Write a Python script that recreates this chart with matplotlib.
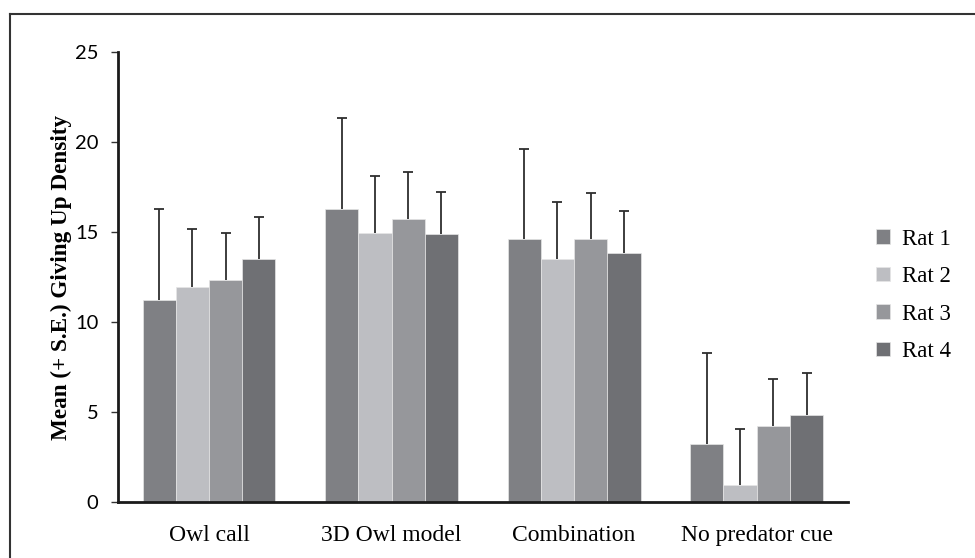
import numpy as np
import matplotlib
matplotlib.use("Agg")
import matplotlib.pyplot as plt
from matplotlib.lines import Line2D

# 데이터
categories = ["Owl call", "3D Owl model", "Combination", "No predator cue"]
rats = ["Rat 1", "Rat 2", "Rat 3", "Rat 4"]
rat1 = [11.25, 16.3, 14.65, 3.25]
rat2 = [11.95, 14.95, 13.5, 0.95]
rat3 = [12.35, 15.75, 14.6, 4.25]
rat4 = [13.5, 14.9, 13.85, 4.85]
rat1_se = [5.05, 5.05, 5.0, 5.05]
rat2_se = [3.25, 3.2, 3.2, 3.15]
rat3_se = [2.6, 2.6, 2.6, 2.6]
rat4_se = [2.35, 2.35, 2.35, 2.35]
yticks = [0, 5, 10, 15, 20, 25]

colors = ["#7f8084", "#bdbec2", "#96979b", "#6f7074"]
means = [rat1, rat2, rat3, rat4]
errs = [rat1_se, rat2_se, rat3_se, rat4_se]

plt.rcParams["font.family"] = ["Liberation Serif", "DejaVu Serif"]

fig = plt.figure(figsize=(9.75, 5.58), dpi=100)
ax = fig.add_axes([0.1207, 0.0998, 0.749, 0.8065])

x = np.arange(len(categories))
w = 0.182
for i in range(4):
    pos = x + (i - 1.5) * w
    ax.bar(pos, means[i], w, color=colors[i], edgecolor="#e6e6e6",
           linewidth=0.5, label=rats[i], zorder=2)
    eb = ax.errorbar(pos, means[i], yerr=[np.zeros(4), errs[i]], fmt="none",
                     ecolor="#2e2e2e", elinewidth=1.3, capsize=3.5,
                     capthick=1.3, zorder=3)
    # 아래쪽 캡은 지움
    eb[1][0].remove()

ax.set_xlim(-0.5, 3.5)
ax.set_ylim(0, 25)
ax.set_yticks(yticks)
ax.set_yticklabels([str(t) for t in yticks], fontfamily="Lato", fontsize=14.5)
ax.set_xticks(x)
ax.set_xticklabels(categories, fontsize=17)
ax.tick_params(axis="x", length=0, pad=16)
ax.tick_params(axis="y", length=5, width=1, color="#333333", pad=9)

for s in ["top", "right"]:
    ax.spines[s].set_visible(False)
ax.spines["left"].set_linewidth(2)
ax.spines["bottom"].set_linewidth(2)
ax.spines["left"].set_color("#1a1a1a")
ax.spines["bottom"].set_color("#1a1a1a")

ax.set_ylabel("Mean (+ S.E.) Giving Up Density", fontweight="bold",
              fontsize=16.7, labelpad=2)

leg = ax.legend(loc="center left", bbox_to_anchor=(1.01, 0.46), frameon=False,
                prop={"size": 16.5},
                handlelength=0.6, handleheight=0.6, handletextpad=0.55,
                labelspacing=0.72)

# 바깥 테두리 (위, 왼쪽)
fig.add_artist(Line2D([0.0103, 1.0], [0.9749, 0.9749], color="#333333",
                      lw=1.5, transform=fig.transFigure))
fig.add_artist(Line2D([0.0103, 0.0103], [0.0, 0.9749], color="#333333",
                      lw=1.5, transform=fig.transFigure))

fig.savefig("out.png", dpi=100)
